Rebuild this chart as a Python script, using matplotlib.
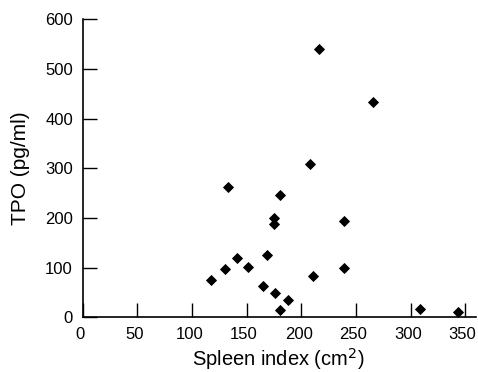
import matplotlib.pyplot as plt
import matplotlib.transforms as mtransforms

plt.rcParams['font.family'] = ['Liberation Sans', 'DejaVu Sans']

# spleen index (cm^2) and TPO (pg/ml)
spleen = [215.8, 265.5, 207.9, 132.6, 180.1, 175.5, 175.5, 239.0, 140.8, 130.1,
          150.9, 117.3, 168.5, 239.0, 210.3, 164.6, 175.8, 187.7, 180.4, 309.0, 343.0]
tpo = [540, 434, 308, 263, 246, 200, 188, 194, 119, 98,
       102, 76, 125, 98.6, 82.5, 64, 48, 35, 15, 17, 11]

xticks = [0, 50, 100, 150, 200, 250, 300, 350]
yticks = [0, 100, 200, 300, 400, 500, 600]

fig = plt.figure(figsize=(4.78, 3.72), dpi=100)
ax = fig.add_axes([0.173, 0.147, 0.823, 0.801])

ax.plot(spleen, tpo, 'kD', markersize=4.6, markeredgewidth=0.6, linestyle='none')

ax.set_xlim(0, 360)
ax.set_ylim(0, 600)
ax.set_xticks(xticks)
ax.set_yticks(yticks)
ax.tick_params(direction='in', length=10, width=1, labelsize=12, pad=7)
ax.spines['top'].set_visible(False)
ax.spines['right'].set_visible(False)
ax.spines['left'].set_linewidth(1.2)
ax.spines['bottom'].set_linewidth(1.2)

# x tick labels sit a touch left of their ticks in the original
shift = mtransforms.ScaledTranslation(-0.025, 0, fig.dpi_scale_trans)
for lab in ax.get_xticklabels():
    lab.set_transform(lab.get_transform() + shift)

ax.set_xlabel("Spleen index (cm$^2$)", fontsize=14.5)
ax.set_ylabel("TPO (pg/ml)", fontsize=15)
ax.xaxis.set_label_coords(0.497, -0.097)
ax.yaxis.set_label_coords(-0.135, 0.5)

plt.savefig("out.png", dpi=100)
